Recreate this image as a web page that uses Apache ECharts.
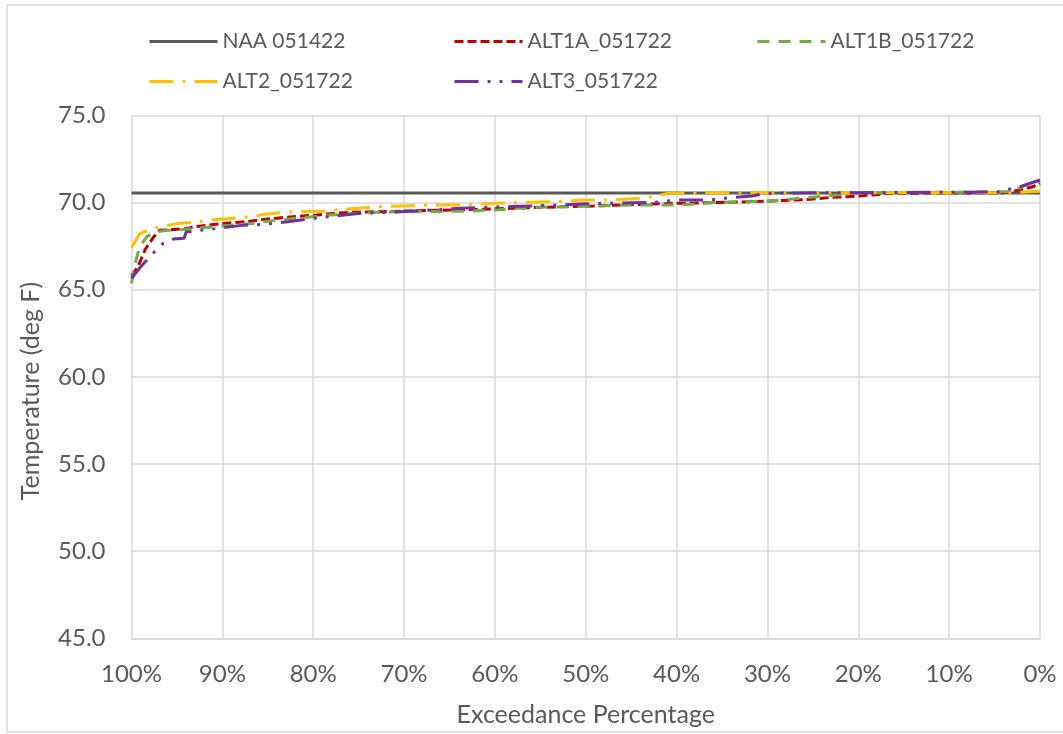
<!DOCTYPE html>
<html>
<head>
<meta charset="utf-8">
<script src="https://cdn.jsdelivr.net/npm/echarts@6/dist/echarts.min.js"></script>
<style>
html,body{margin:0;padding:0;background:#fff;}
#chart{width:1063px;height:734px;}
</style>
</head>
<body>
<div id="chart"></div>
<script>
var xTicks = [100, 90, 80, 70, 60, 50, 40, 30, 20, 10, 0];
var yTicks = [45, 50, 55, 60, 65, 70, 75];

var naaName = 'NAA 051422';
var naaPct = [100, 0];
var naaTemp = [70.55, 70.55];

var alt1aName = 'ALT1A_051722';
var alt1aPct = [100, 99.3, 98.9, 98.5, 97.6, 96.9, 93.9, 93.2, 89.9, 87.3, 85.9, 84, 81.8, 79.6, 78.5, 75.9, 70.4, 62, 55, 49.2, 43.7, 40, 35.2, 31.2, 27.2, 25.3, 22.8, 21.3, 18.4, 16.5, 4.1, 2.2, 0.8, 0];
var alt1aTemp = [65.8, 66.3, 66.8, 67.3, 68.0, 68.4, 68.5, 68.6, 68.8, 68.9, 69.0, 69.1, 69.2, 69.28, 69.34, 69.44, 69.5, 69.6, 69.72, 69.8, 69.9, 69.95, 70.0, 70.05, 70.14, 70.18, 70.3, 70.33, 70.43, 70.53, 70.55, 70.72, 70.9, 71.1];

var alt1bName = 'ALT1B_051722';
var alt1bPct = [100, 99.8, 99.5, 99.1, 98.3, 97.4, 96.1, 93.9, 92.5, 91, 86.6, 85.5, 83.7, 81.8, 78.1, 76.3, 71.2, 69.6, 63.1, 60.2, 55.8, 51, 45.5, 39.4, 36, 31.9, 29.4, 26.4, 23.5, 20.6, 18.7, 3.3, 1.1, 0];
var alt1bTemp = [65.36, 65.9, 66.7, 67.46, 68.04, 68.3, 68.4, 68.46, 68.55, 68.6, 68.8, 68.9, 69.0, 69.1, 69.28, 69.35, 69.47, 69.47, 69.5, 69.57, 69.72, 69.76, 69.86, 69.86, 70.0, 70.05, 70.1, 70.24, 70.37, 70.53, 70.55, 70.62, 71.1, 71.2];

var alt2Name = 'ALT2_051722';
var alt2Pct = [100, 99.1, 97.8, 94.9, 93, 91.4, 88.4, 86.7, 85.1, 82.2, 78.9, 75.7, 72.5, 70.4, 66.25, 63.1, 60, 56.9, 53.6, 50.3, 47.3, 44, 42.6, 40.9, 36.3, 3, 0];
var alt2Temp = [67.4, 68.2, 68.5, 68.8, 68.86, 69.0, 69.1, 69.2, 69.34, 69.47, 69.5, 69.65, 69.76, 69.8, 69.86, 69.88, 69.95, 70.0, 70.05, 70.14, 70.14, 70.24, 70.33, 70.53, 70.56, 70.56, 70.65];

var alt3Name = 'ALT3_051722';
var alt3Pct = [100, 98.9, 97.8, 96.5, 95.4, 94.2, 94, 92.5, 90.8, 87.7, 86.1, 84.4, 82.8, 79.8, 78.1, 74.8, 71.5, 67, 63.8, 58.9, 55.8, 50.6, 47.7, 42.6, 39.8, 36.3, 34.7, 31.7, 30.1, 26.8, 4.4, 3.7, 2.2, 0];
var alt3Temp = [65.65, 66.36, 67.0, 67.66, 67.9, 67.95, 68.3, 68.4, 68.5, 68.7, 68.72, 68.8, 68.9, 69.1, 69.2, 69.38, 69.44, 69.57, 69.67, 69.76, 69.8, 69.91, 69.95, 70.0, 70.14, 70.14, 70.24, 70.37, 70.53, 70.55, 70.6, 70.72, 70.9, 71.29];

function pairs(xs, ys) {
  var out = [];
  for (var i = 0; i < xs.length; i++) out.push([xs[i], ys[i]]);
  return out;
}

var FONT = 'Lato';
var TXT = '#595959';
var GRIDC = '#d9d9d9';

function mkSeries(name, xs, ys, color, dash, z) {
  return {
    name: name,
    type: 'line',
    data: pairs(xs, ys),
    symbol: 'none',
    smooth: false,
    z: z,
    lineStyle: { color: color, width: 3, type: dash, cap: 'butt' },
    itemStyle: { color: color },
    emphasis: { disabled: true }
  };
}

function mkLegend(name, left, top) {
  return {
    data: [name],
    left: left,
    top: top,
    itemWidth: 68,
    itemHeight: 14,
    itemGap: 0,
    padding: 0,
    selectedMode: false,
    itemStyle: { opacity: 0 },
    lineStyle: { width: 3 },
    textStyle: { color: TXT, fontSize: 21, fontFamily: FONT, padding: [0, 0, 0, 0] }
  };
}

var chart = echarts.init(document.getElementById('chart'), null, { renderer: 'canvas' });
chart.setOption({
  animation: false,
  backgroundColor: '#ffffff',
  graphic: [
    {
      type: 'rect',
      shape: { x: 7, y: 5, width: 1060, height: 727 },
      style: { fill: 'none', stroke: GRIDC, lineWidth: 1.5 },
      silent: true,
      z: -10
    },
    {
      type: 'text',
      x: 31,
      y: 391,
      rotation: Math.PI / 2,
      style: {
        text: 'Temperature (deg F)',
        fill: TXT,
        font: '25px Lato',
        align: 'center',
        verticalAlign: 'middle'
      },
      silent: true
    }
  ],
  legend: [
    mkLegend(naaName, 148, 31),
    mkLegend(alt1aName, 453, 31),
    mkLegend(alt1bName, 756, 31),
    mkLegend(alt2Name, 148, 71),
    mkLegend(alt3Name, 453, 71)
  ],
  grid: { left: 131.5, right: 23, top: 115.3, bottom: 95.7, containLabel: false },
  xAxis: {
    type: 'value',
    inverse: true,
    min: xTicks[xTicks.length - 1],
    max: xTicks[0],
    interval: 10,
    name: 'Exceedance Percentage',
    nameLocation: 'middle',
    nameGap: 64,
    nameTextStyle: { color: TXT, fontSize: 25, fontFamily: FONT },
    axisLine: { show: true, lineStyle: { color: GRIDC, width: 1.5 } },
    axisTick: { show: false },
    axisLabel: {
      color: TXT, fontSize: 24, fontFamily: FONT, margin: 24,
      formatter: function (v) { return v + '%'; }
    },
    splitLine: { show: true, lineStyle: { color: GRIDC, width: 1.5 } }
  },
  yAxis: {
    type: 'value',
    min: yTicks[0],
    max: yTicks[yTicks.length - 1],
    interval: 5,
    axisLine: { show: false },
    axisTick: { show: false },
    axisLabel: {
      color: TXT, fontSize: 24, fontFamily: FONT, margin: 26,
      formatter: function (v) { return v.toFixed(1); }
    },
    splitLine: { show: true, lineStyle: { color: GRIDC, width: 1.5 } }
  },
  series: [
    mkSeries(naaName, naaPct, naaTemp, '#595959', 'solid', 2),
    mkSeries(alt1aName, alt1aPct, alt1aTemp, '#C00000', [9, 4], 3),
    mkSeries(alt1bName, alt1bPct, alt1bTemp, '#70AD47', [12, 9], 4),
    mkSeries(alt2Name, alt2Pct, alt2Temp, '#FFC000', [24, 9, 3, 9], 5),
    mkSeries(alt3Name, alt3Pct, alt3Temp, '#7030A0', [24, 9, 3, 9, 3, 9], 6)
  ]
});
</script>
</body>
</html>
